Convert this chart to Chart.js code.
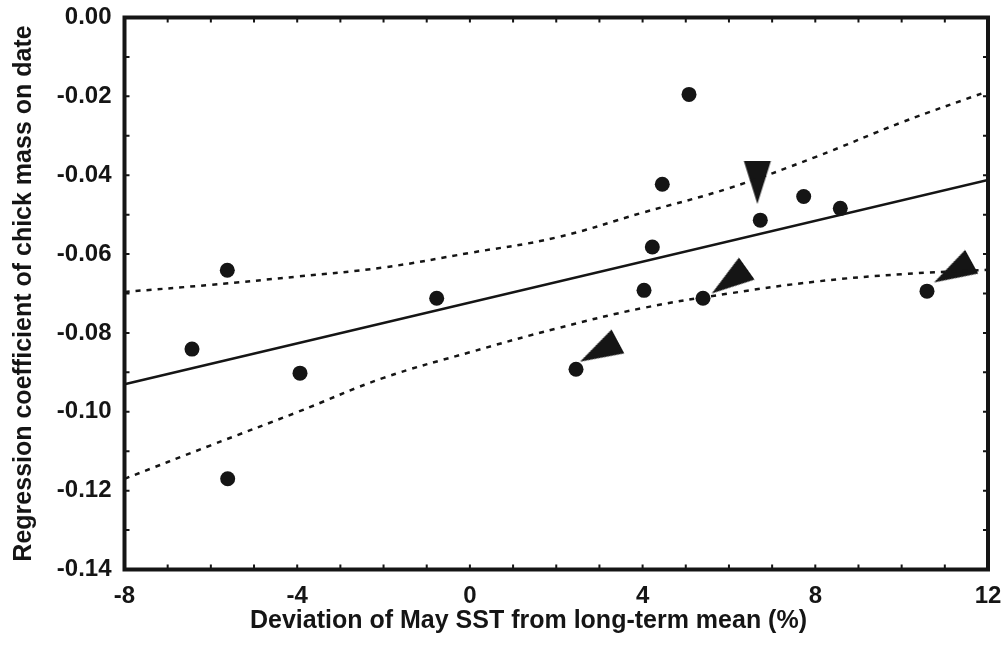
<!DOCTYPE html>
<html>
<head>
<meta charset="utf-8">
<script src="https://cdn.jsdelivr.net/npm/chart.js@4/dist/chart.umd.min.js"></script>
<style>
  html, body { margin: 0; padding: 0; background: #fff; }
  #wrap { width: 1005px; height: 653px; position: relative; }
</style>
</head>
<body>
<div id="wrap"><canvas id="c"></canvas></div>
<script>
// ---- data ----
const xTitle = 'Deviation of May SST from long-term mean (%)';
const yTitle = 'Regression coefficient of chick mass on date';

const sstDev = [-6.437, -5.619, -5.610, -3.935, -0.769, 2.458, 4.033, 4.225, 4.456, 5.075, 5.399, 6.726, 7.731, 8.579, 10.587];
const coef   = [-0.0841, -0.0641, -0.1170, -0.0902, -0.0712, -0.0892, -0.0692, -0.0582, -0.0423, -0.0195, -0.0712, -0.0514, -0.0454, -0.0484, -0.0694];

const fitX = [-8, 12];
const fitY = [-0.0930, -0.0412];

const bandX  = [-8, -6, -4, -2, 0, 2, 4, 6, 8, 10, 12];
const upperY = [-0.0696, -0.0678, -0.0657, -0.0634, -0.0597, -0.0558, -0.0495, -0.0433, -0.0354, -0.0266, -0.0187];
const lowerY = [-0.1170, -0.1085, -0.1001, -0.0914, -0.0849, -0.0789, -0.0737, -0.0700, -0.0670, -0.0651, -0.0640];

// arrowhead tips (data coords) and pointing angle (deg, 0 = pointing down)
const arrowX     = [6.657, 5.601, 2.550, 10.749];
const arrowY     = [-0.0473, -0.0700, -0.0873, -0.0672];
const arrowAngle = [0, 54.6, 61.9, 61.2];

const xMin = -8, xMax = 12, xStep = 1, xLabelEvery = 4;
const yMin = -0.14, yMax = 0, yStep = 0.01, yLabelEvery = 0.02;

// ---- helpers ----
const pts = (xs, ys) => xs.map((x, i) => ({ x: x, y: ys[i] }));
const INK = '#151515';
const FONT = "'Liberation Sans', Arial, Helvetica, sans-serif";

// arrowhead image: tip at the canvas centre, base upward
function makeArrow(L, W) {
  const S = Math.ceil(2 * L + 4);
  const cv = document.createElement('canvas');
  cv.width = S; cv.height = S;
  const g = cv.getContext('2d');
  const c = S / 2;
  g.fillStyle = INK;
  g.beginPath();
  g.moveTo(c, c);
  g.lineTo(c - W / 2, c - L);
  g.lineTo(c + W / 2, c - L);
  g.closePath();
  g.fill();
  return cv;
}
const arrowImg = makeArrow(43, 27);

const framePlugin = {
  id: 'frame',
  afterDatasetsDraw(chart) {
    const { ctx, chartArea: a, scales: { x, y } } = chart;
    ctx.save();
    ctx.strokeStyle = INK;
    ctx.lineWidth = 2;
    const tl = 5;
    ctx.beginPath();
    x.ticks.forEach(t => {
      const px = x.getPixelForValue(t.value);
      ctx.moveTo(px, a.bottom); ctx.lineTo(px, a.bottom - tl);
      ctx.moveTo(px, a.top); ctx.lineTo(px, a.top + tl);
    });
    y.ticks.forEach(t => {
      const py = y.getPixelForValue(t.value);
      ctx.moveTo(a.left, py); ctx.lineTo(a.left + tl, py);
      ctx.moveTo(a.right, py); ctx.lineTo(a.right - tl, py);
    });
    ctx.stroke();
    ctx.lineWidth = 4;
    ctx.strokeRect(a.left, a.top, a.right - a.left, a.bottom - a.top);
    ctx.restore();
  },
  afterDraw(chart) {
    const { ctx, chartArea: a } = chart;
    ctx.save();
    ctx.fillStyle = INK;
    ctx.font = 'bold 25px ' + FONT;
    ctx.textAlign = 'center';
    ctx.textBaseline = 'middle';
    ctx.fillText(xTitle, a.left + 404, a.bottom + 51.5);
    ctx.restore();
  }
};

new Chart(document.getElementById('c'), {
  type: 'scatter',
  data: {
    datasets: [
      {
        label: 'Upper 95% CI',
        type: 'line',
        data: pts(bandX, upperY),
        borderColor: INK, borderWidth: 2.5, borderDash: [5, 6],
        pointRadius: 0, fill: false, tension: 0.4
      },
      {
        label: 'Lower 95% CI',
        type: 'line',
        data: pts(bandX, lowerY),
        borderColor: INK, borderWidth: 2.5, borderDash: [5, 6],
        pointRadius: 0, fill: false, tension: 0.4
      },
      {
        label: 'Regression',
        type: 'line',
        data: pts(fitX, fitY),
        borderColor: INK, borderWidth: 2.5,
        pointRadius: 0, fill: false
      },
      {
        label: 'Years',
        data: pts(sstDev, coef),
        backgroundColor: INK, borderColor: INK, borderWidth: 0,
        pointRadius: 7.5, pointHoverRadius: 7.5
      },
      {
        label: 'Arrows',
        data: pts(arrowX, arrowY),
        pointStyle: arrowImg,
        pointRotation: arrowAngle,
        pointRadius: 2, pointHoverRadius: 2,
        backgroundColor: INK, borderColor: INK
      }
    ]
  },
  options: {
    responsive: true,
    maintainAspectRatio: false,
    animation: false,
    events: [],
    layout: { padding: { top: 17.5, right: 17, bottom: 0, left: 0 } },
    plugins: { legend: { display: false }, tooltip: { enabled: false } },
    scales: {
      x: {
        type: 'linear', min: xMin, max: xMax,
        afterFit: s => { s.height = 83.5; s.paddingLeft = 0; s.paddingRight = 0; },
        grid: { display: false, drawTicks: false },
        border: { display: false },
        ticks: {
          stepSize: xStep, autoSkip: false, maxRotation: 0, padding: 12,
          color: INK, font: { family: FONT, size: 24, weight: 'bold' },
          callback: v => (Math.round(v) % xLabelEvery === 0 ? String(Math.round(v)) : '')
        }
      },
      y: {
        type: 'linear', min: yMin, max: yMax,
        afterFit: s => { s.width = 124.5; s.paddingTop = 0; s.paddingBottom = 0; },
        grid: { display: false, drawTicks: false },
        border: { display: false },
        title: {
          display: true, text: yTitle, color: INK,
          font: { family: FONT, size: 25, weight: 'bold' },
          padding: { top: 9, bottom: 0 }
        },
        ticks: {
          stepSize: yStep, autoSkip: false, padding: 13,
          color: INK, font: { family: FONT, size: 24, weight: 'bold' },
          callback: v => {
            const k = Math.round(v / yStep);
            const every = Math.round(yLabelEvery / yStep);
            return k % every === 0 ? (k * yStep).toFixed(2).replace('-0.00', '0.00') : '';
          }
        }
      }
    }
  },
  plugins: [framePlugin]
});
</script>
</body>
</html>
